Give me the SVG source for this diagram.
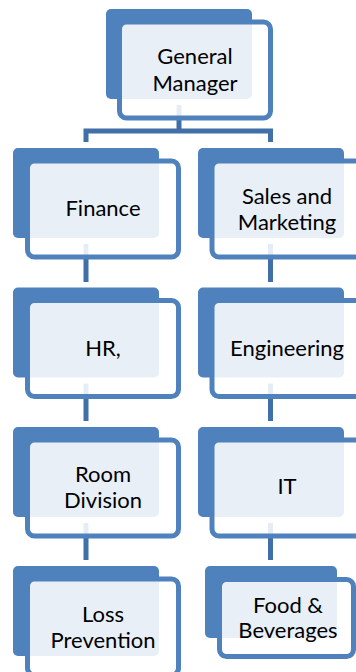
<svg xmlns="http://www.w3.org/2000/svg" width="356" height="672" viewBox="0 0 356 672">
  <style>
    .back { fill: #4F81BD; }
    .front { fill: #FFFFFF; fill-opacity: 0.87; stroke: #4F81BD; stroke-width: 5; }
    .conn { fill: none; stroke: #416FA8; stroke-width: 5; }
    .lbl { font-family: Lato, "Liberation Sans", sans-serif; font-size: 22px; fill: #000000; text-anchor: middle; }
  </style>
  <rect width="356" height="672" fill="#FFFFFF"/>

  <!-- org chart links -->
  <g id="connectors">
    <path class="conn" d="M179 105V131M86 142V131H270.5V142"/>
    <path class="conn" d="M86 244V282M86 383.5V421M86 523V560"/>
    <path class="conn" d="M270.5 244V282M270.5 383.5V421M270.5 523V560"/>
  </g>

  <g id="general-manager">
    <rect class="back" x="106" y="9" width="146" height="90" rx="5"/>
    <rect class="front" x="119.5" y="22" width="151" height="96" rx="7"/>
    <text class="lbl" x="195" y="64">General</text>
    <text class="lbl" x="195" y="91">Manager</text>
  </g>

  <g id="finance">
    <rect class="back" x="13" y="148" width="146" height="90" rx="5"/>
    <rect class="front" x="27.5" y="161" width="151" height="96" rx="7"/>
    <text class="lbl" x="103" y="216">Finance</text>
  </g>

  <g id="sales-marketing">
    <rect class="back" x="198" y="148" width="146" height="90" rx="5"/>
    <rect class="front" x="212" y="161" width="151" height="96" rx="7"/>
    <text class="lbl" x="287" y="204">Sales and</text>
    <text class="lbl" x="287" y="230">Marketing</text>
  </g>

  <g id="hr">
    <rect class="back" x="13" y="287.5" width="146" height="90" rx="5"/>
    <rect class="front" x="27.5" y="300.5" width="151" height="96" rx="7"/>
    <text class="lbl" x="103" y="356">HR,</text>
  </g>

  <g id="engineering">
    <rect class="back" x="198" y="287.5" width="146" height="90" rx="5"/>
    <rect class="front" x="212" y="300.5" width="151" height="96" rx="7"/>
    <text class="lbl" x="287" y="356">Engineering</text>
  </g>

  <g id="room-division">
    <rect class="back" x="13" y="427" width="146" height="90" rx="5"/>
    <rect class="front" x="27.5" y="440" width="151" height="96" rx="7"/>
    <text class="lbl" x="103" y="482">Room</text>
    <text class="lbl" x="103" y="507.5">Division</text>
  </g>

  <g id="it">
    <rect class="back" x="198" y="427" width="146" height="90" rx="5"/>
    <rect class="front" x="212" y="440" width="151" height="96" rx="7"/>
    <text class="lbl" x="287" y="494">IT</text>
  </g>

  <g id="loss-prevention">
    <rect class="back" x="13" y="566" width="146" height="90" rx="5"/>
    <rect class="front" x="27.5" y="579" width="151" height="96" rx="7"/>
    <text class="lbl" x="103" y="622">Loss</text>
    <text class="lbl" x="103" y="648">Prevention</text>
  </g>

  <g id="food-beverages">
    <rect class="back" x="205" y="566" width="132" height="72" rx="5"/>
    <rect class="front" x="219.5" y="579.5" width="134" height="77" rx="7"/>
    <text class="lbl" x="288" y="613">Food &amp;</text>
    <text class="lbl" x="288" y="638">Beverages</text>
  </g>
</svg>
